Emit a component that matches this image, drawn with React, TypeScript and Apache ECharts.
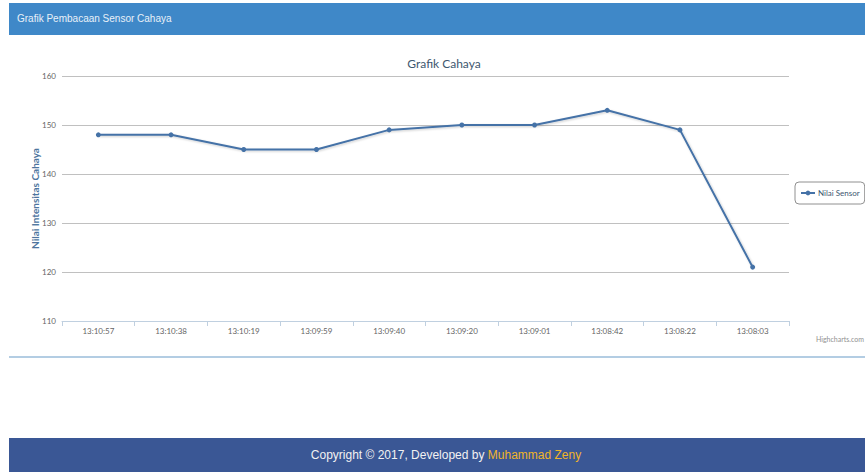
import React, { useEffect, useRef } from "react";
import * as echarts from "echarts";

const categories = ["13:10:57", "13:10:38", "13:10:19", "13:09:59", "13:09:40", "13:09:20", "13:09:01", "13:08:42", "13:08:22", "13:08:03"];
const sensorValues = [148, 148, 145, 145, 149, 150, 150, 153, 149, 121];
const yTicks = { min: 110, max: 160, interval: 10 };

export default function App() {
  const ref = useRef<HTMLDivElement>(null);
  useEffect(() => {
    if (!ref.current) return;
    const chart = echarts.init(ref.current, undefined, { renderer: "svg" });
    chart.setOption({
      animation: false,
      title: {
        text: "Grafik Cahaya",
        left: 430,
        top: 17,
        textAlign: "center",
        textStyle: { color: "#3E576F", fontSize: 12, fontWeight: "normal", fontFamily: "Lato" },
      },
      legend: {
        orient: "vertical",
        left: 786,
        top: 147,
        padding: [7, 5, 7, 5],
        borderColor: "#909090",
        borderWidth: 1,
        borderRadius: 4,
        itemWidth: 14,
        itemHeight: 6,
        itemGap: 4,
        textStyle: { color: "#3E576F", fontSize: 8, fontFamily: "Lato", padding: [0, 0, 0, -2] },
        data: ["Nilai Sensor"],
      },
      grid: { left: 53, right: 76, top: 41, bottom: 29, containLabel: false },
      xAxis: {
        type: "category",
        data: categories,
        boundaryGap: true,
        axisLine: { lineStyle: { color: "#C0D0E0", width: 1 } },
        axisTick: { show: true, alignWithLabel: false, length: 5, lineStyle: { color: "#C0D0E0" } },
        axisLabel: { color: "#666", fontSize: 8, margin: 6, fontFamily: "Lato" },
        splitLine: { show: false },
      },
      yAxis: {
        type: "value",
        min: yTicks.min,
        max: yTicks.max,
        interval: yTicks.interval,
        name: "Nilai Intensitas Cahaya",
        nameLocation: "middle",
        nameRotate: 90,
        nameGap: 22,
        nameMoveOverlap: false,
        nameTextStyle: { color: "#4d759e", fontSize: 10, fontWeight: "bold", fontFamily: "Lato" },
        axisLine: { show: false },
        axisTick: { show: false },
        axisLabel: { color: "#666", fontSize: 8, margin: 6, fontFamily: "Lato" },
        splitLine: { lineStyle: { color: "#C0C0C0", width: 1 } },
      },
      series: [
        {
          name: "Nilai Sensor",
          type: "line",
          data: sensorValues,
          symbol: "circle",
          symbolSize: 5,
          color: "#4572A7",
          lineStyle: {
            width: 2,
            color: "#4572A7",
            shadowColor: "rgba(0,0,0,0.2)",
            shadowBlur: 2,
            shadowOffsetY: 1,
            shadowOffsetX: 1,
          },
          itemStyle: { color: "#4572A7" },
        },
      ],
      graphic: [
        {
          type: "text",
          right: 1,
          top: 300,
          style: { text: "Highcharts.com", fill: "#909090", fontSize: 7, fontFamily: "Lato" },
        },
      ],
    });
    return () => chart.dispose();
  }, []);

  return (
    <div style={{ position: "fixed", left: 0, top: 0, width: 865, height: 472, background: "#fff", overflow: "hidden" }}>
      <div
        style={{
          position: "absolute",
          left: 9,
          top: 3,
          width: 856,
          height: 32,
          background: "#3f88c8",
          color: "#e8f0f8",
          fontFamily: "Liberation Sans, Arial, sans-serif",
          fontSize: 10,
          lineHeight: "32px",
          paddingLeft: 8,
          boxSizing: "border-box",
        }}
      >
        Grafik Pembacaan Sensor Cahaya
      </div>
      <div ref={ref} style={{ position: "absolute", left: 9, top: 35, width: 856, height: 315 }} />
      <div style={{ position: "absolute", left: 9, top: 356, width: 856, height: 2, background: "#b3cde3" }} />
      <div
        style={{
          position: "absolute",
          left: 9,
          top: 438,
          width: 856,
          height: 34,
          background: "#3a5795",
          color: "#f2f2f2",
          fontFamily: "Liberation Sans, Arial, sans-serif",
          fontSize: 12,
          lineHeight: "34px",
          textAlign: "center",
          paddingLeft: 18,
          boxSizing: "border-box",
        }}
      >
        Copyright © 2017, Developed by <span style={{ color: "#f0b429" }}>Muhammad Zeny</span>
      </div>
    </div>
  );
}
